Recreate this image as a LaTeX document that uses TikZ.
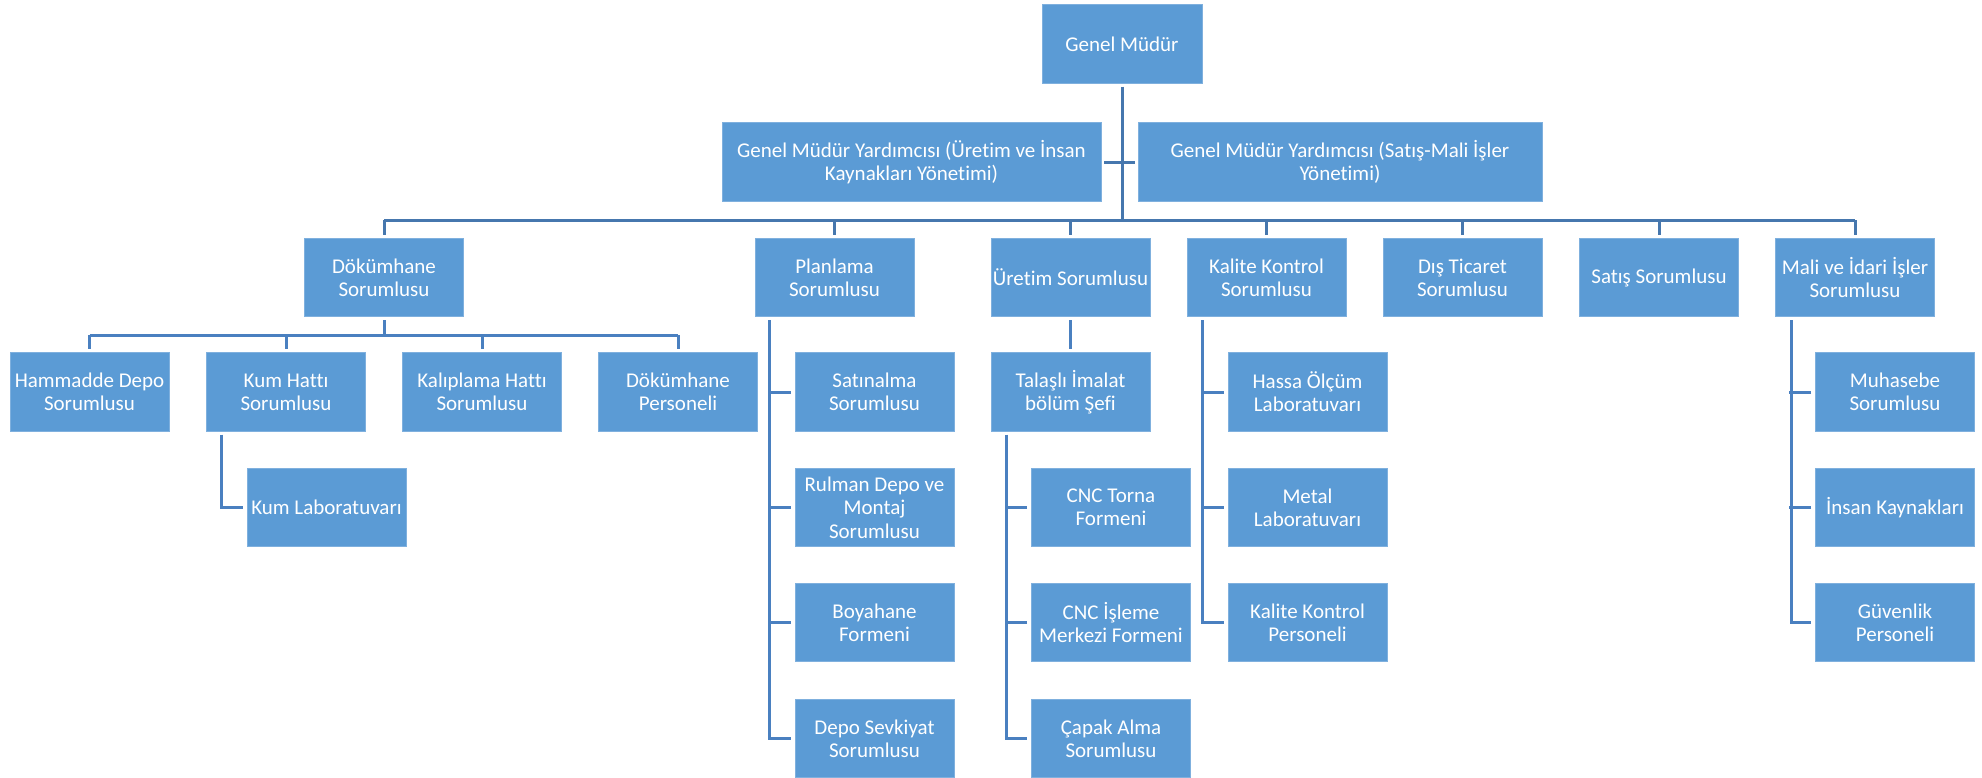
\documentclass[tikz,border=0pt]{standalone}
\usepackage{fontspec}
\setmainfont{Carlito}[Ligatures={NoCommon}]
\definecolor{boxblue}{HTML}{5B9BD5}
\definecolor{boxedge}{HTML}{7FB0DE}
\definecolor{linetop}{HTML}{4677AE}
\definecolor{linelow}{HTML}{4A80C0}
\tikzset{
  orgbox/.style={rectangle, fill=boxblue, draw=boxedge, line width=0.8pt,
    minimum width=159pt, minimum height=78.5pt, inner sep=0pt, text=white,
    align=center, font=\fontsize{21}{23.3}\selectfont},
  topline/.style={draw=linetop, line width=3pt},
  lowline/.style={draw=linelow, line width=3pt},
}
\begin{document}
\begin{tikzpicture}[x=1pt,y=-1pt]
\useasboundingbox[fill=white] (0,0) rectangle (1982,777);

% level 0/1
\node[orgbox, minimum width=160pt] (gm) at (1122,44) {Genel Müdür};
\node[orgbox, minimum width=379pt] (gmyl) at (911.5,162) {Genel Müdür Yardımcısı (Üretim ve İnsan\\Kaynakları Yönetimi)};
\node[orgbox, minimum width=404pt] (gmyr) at (1340,162) {Genel Müdür Yardımcısı (Satış-Mali İşler\\Yönetimi)};

% level 2
\node[orgbox] (dok) at (384,277.5) {Dökümhane\\Sorumlusu};
\node[orgbox] (plan) at (834.5,277.5) {Planlama\\Sorumlusu};
\node[orgbox] (ure) at (1070.5,277.5) {Üretim Sorumlusu};
\node[orgbox] (kal) at (1266.5,277.5) {Kalite Kontrol\\Sorumlusu};
\node[orgbox] (dis) at (1462.5,277.5) {Dış Ticaret\\Sorumlusu};
\node[orgbox] (sat) at (1659,277.5) {Satış Sorumlusu};
\node[orgbox] (mali) at (1855,277.5) {Mali ve İdari İşler\\Sorumlusu};

% Dökümhane children
\node[orgbox] (ham) at (89.5,392) {Hammadde Depo\\Sorumlusu};
\node[orgbox] (kum) at (286,392) {Kum Hattı\\Sorumlusu};
\node[orgbox] (kalip) at (482,392) {Kalıplama Hattı\\Sorumlusu};
\node[orgbox] (dper) at (678,392) {Dökümhane\\Personeli};
\node[orgbox] (kumlab) at (326.5,507.5) {Kum Laboratuvarı};

% Planlama children
\node[orgbox] (satin) at (874.5,392) {Satınalma\\Sorumlusu};
\node[orgbox] (rul) at (874.5,507.5) {Rulman Depo ve\\Montaj\\Sorumlusu};
\node[orgbox] (boya) at (874.5,622.5) {Boyahane\\Formeni};
\node[orgbox] (depo) at (874.5,738.5) {Depo Sevkiyat\\Sorumlusu};

% Üretim children
\node[orgbox] (tal) at (1070.5,392) {Talaşlı İmalat\\bölüm Şefi};
\node[orgbox] (cnct) at (1111,507.5) {CNC Torna\\Formeni};
\node[orgbox] (cnci) at (1111,622.5) {CNC İşleme\\Merkezi Formeni};
\node[orgbox] (capak) at (1111,738.5) {Çapak Alma\\Sorumlusu};

% Kalite children
\node[orgbox] (hassa) at (1307.5,392) {Hassa Ölçüm\\Laboratuvarı};
\node[orgbox] (metal) at (1307.5,507.5) {Metal\\Laboratuvarı};
\node[orgbox] (kkper) at (1307.5,622.5) {Kalite Kontrol\\Personeli};

% Mali children
\node[orgbox] (muh) at (1895,392) {Muhasebe\\Sorumlusu};
\node[orgbox] (ik) at (1895,507.5) {İnsan Kaynakları};
\node[orgbox] (guv) at (1895,622.5) {Güvenlik\\Personeli};

% helper coordinates
\coordinate (hub) at (1122,220);
\coordinate (dokbar) at (384,335);

% top connectors
\draw[topline] ([yshift=-3pt]gm.south) -- (hub);
\draw[topline] ([xshift=3pt]gmyl.east) -- ([xshift=-3pt]gmyr.west);
\draw[topline] (dok.north |- hub) -- (mali.north |- hub);
\foreach \n in {dok,plan,ure,kal,dis,sat,mali}
  \draw[topline] (\n.north |- hub) -- ([yshift=3pt]\n.north);

% Dökümhane
\draw[lowline] ([yshift=-3pt]dok.south) -- (dokbar);
\draw[lowline] (ham.north |- dokbar) -- (dper.north |- dokbar);
\foreach \n in {ham,kum,kalip,dper}
  \draw[lowline] (\n.north |- dokbar) -- ([yshift=3pt]\n.north);
\draw[lowline] ([xshift=-65pt,yshift=-3pt]kum.south) |- ([xshift=-4pt]kumlab.west);

% Planlama
\draw[lowline] ([xshift=-65.5pt,yshift=-3pt]plan.south) |- ([xshift=-4pt]depo.west);
\foreach \n in {satin,rul,boya}
  \draw[lowline] ([xshift=-4pt]\n.west) -- ([xshift=-26pt]\n.west);

% Üretim
\draw[lowline] ([yshift=-3pt]ure.south) -- ([yshift=3pt]tal.north);
\draw[lowline] ([xshift=-64.5pt,yshift=-3pt]tal.south) |- ([xshift=-4pt]capak.west);
\foreach \n in {cnct,cnci}
  \draw[lowline] ([xshift=-4pt]\n.west) -- ([xshift=-26pt]\n.west);

% Kalite
\draw[lowline] ([xshift=-64.5pt,yshift=-3pt]kal.south) |- ([xshift=-4pt]kkper.west);
\foreach \n in {hassa,metal}
  \draw[lowline] ([xshift=-4pt]\n.west) -- ([xshift=-26pt]\n.west);

% Mali
\draw[lowline] ([xshift=-64pt,yshift=-3pt]mali.south) |- ([xshift=-4pt]guv.west);
\foreach \n in {muh,ik}
  \draw[lowline] ([xshift=-4pt]\n.west) -- ([xshift=-26pt]\n.west);
\end{tikzpicture}
\end{document}
